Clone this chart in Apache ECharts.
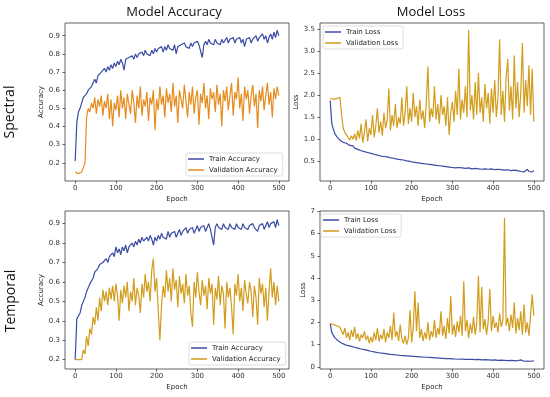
<!DOCTYPE html>
<html><head><meta charset="utf-8">
<script src="https://cdn.jsdelivr.net/npm/echarts@6/dist/echarts.min.js"></script>
<style>html,body{margin:0;padding:0;background:#fff}#c{width:550px;height:397px}</style>
</head><body><div id="c"></div>
<script>
// epochs are sampled every 4 epochs: 0,4,...,500
const epochStep = 4;
const xTicks = [0, 100, 200, 300, 400, 500];
const accTicks = [0.2, 0.3, 0.4, 0.5, 0.6, 0.7, 0.8, 0.9];
const specLossTicks = [0.5, 1.0, 1.5, 2.0, 2.5, 3.0, 3.5];
const tempLossTicks = [0, 1, 2, 3, 4, 5, 6, 7];

const specTrainAcc = [0.21,0.42,0.48,0.50,0.53,0.56,0.57,0.58,0.60,0.59,0.62,0.63,0.66,0.64,0.68,0.67,0.70,0.69,0.72,0.70,0.73,0.71,0.74,0.72,0.75,0.73,0.76,0.74,0.77,0.75,0.71,0.77,0.76,0.78,0.77,0.79,0.77,0.80,0.78,0.80,0.79,0.81,0.79,0.82,0.80,0.81,0.79,0.82,0.80,0.83,0.81,0.83,0.82,0.84,0.81,0.84,0.82,0.85,0.83,0.84,0.82,0.85,0.80,0.84,0.83,0.85,0.84,0.86,0.84,0.85,0.83,0.86,0.84,0.86,0.85,0.87,0.85,0.86,0.78,0.85,0.87,0.85,0.88,0.86,0.87,0.85,0.88,0.86,0.87,0.85,0.88,0.86,0.87,0.89,0.86,0.88,0.87,0.89,0.86,0.88,0.87,0.89,0.86,0.88,0.84,0.88,0.87,0.89,0.86,0.88,0.87,0.90,0.87,0.89,0.88,0.91,0.88,0.90,0.86,0.89,0.91,0.88,0.92,0.89,0.93,0.90];
const specValAcc = [0.15,0.14,0.14,0.14,0.15,0.14,0.20,0.45,0.50,0.48,0.53,0.50,0.56,0.47,0.55,0.51,0.57,0.46,0.54,0.50,0.58,0.44,0.55,0.40,0.53,0.49,0.57,0.45,0.60,0.50,0.56,0.44,0.58,0.52,0.47,0.60,0.53,0.42,0.57,0.50,0.62,0.46,0.55,0.51,0.59,0.43,0.56,0.52,0.60,0.38,0.55,0.49,0.62,0.52,0.57,0.45,0.61,0.53,0.58,0.48,0.64,0.51,0.57,0.42,0.60,0.55,0.50,0.63,0.54,0.45,0.59,0.52,0.62,0.47,0.56,0.60,0.41,0.58,0.53,0.64,0.50,0.57,0.44,0.61,0.55,0.59,0.48,0.63,0.52,0.58,0.40,0.60,0.54,0.62,0.49,0.57,0.64,0.46,0.59,0.55,0.67,0.50,0.58,0.43,0.62,0.55,0.60,0.47,0.57,0.63,0.51,0.58,0.39,0.60,0.54,0.62,0.49,0.57,0.64,0.52,0.59,0.45,0.61,0.55,0.62,0.57];
const specTrainLoss = [1.88,1.35,1.22,1.12,1.06,1.02,0.98,0.95,0.93,0.90,0.91,0.87,0.86,0.84,0.85,0.80,0.79,0.77,0.78,0.74,0.76,0.72,0.73,0.70,0.71,0.68,0.69,0.66,0.68,0.64,0.67,0.62,0.65,0.61,0.63,0.60,0.61,0.58,0.60,0.57,0.58,0.55,0.57,0.54,0.56,0.53,0.54,0.51,0.53,0.50,0.52,0.48,0.50,0.47,0.49,0.46,0.48,0.45,0.47,0.44,0.48,0.43,0.46,0.42,0.44,0.41,0.43,0.40,0.42,0.39,0.41,0.38,0.40,0.37,0.39,0.36,0.40,0.35,0.38,0.36,0.39,0.35,0.37,0.34,0.38,0.35,0.37,0.33,0.36,0.34,0.37,0.33,0.35,0.32,0.36,0.33,0.35,0.32,0.36,0.33,0.35,0.31,0.34,0.32,0.35,0.31,0.33,0.30,0.34,0.31,0.33,0.29,0.32,0.30,0.33,0.29,0.31,0.27,0.30,0.26,0.29,0.32,0.27,0.30,0.26,0.29];
const specValLoss = [1.93,1.92,1.91,1.93,1.92,1.94,1.95,1.55,1.25,1.15,1.10,1.04,0.98,1.08,1.00,1.12,0.97,1.20,1.02,1.35,0.92,1.15,1.45,0.95,1.25,1.10,1.55,1.05,1.30,1.70,1.15,1.40,1.08,1.60,1.25,1.45,2.15,1.20,1.55,1.30,1.80,1.25,1.50,1.35,1.95,1.30,1.60,2.20,1.35,1.70,1.40,2.05,1.50,1.75,1.30,1.90,1.45,1.65,1.25,1.85,2.65,1.40,1.70,1.50,2.20,1.45,1.80,1.35,2.00,1.55,1.75,1.30,1.95,1.10,1.60,1.85,1.40,2.10,1.55,2.60,1.45,1.90,1.60,2.20,1.50,3.47,1.65,2.00,1.45,2.30,1.55,2.50,1.60,1.95,1.40,2.25,1.70,2.05,1.35,2.15,1.60,2.35,1.50,1.95,3.27,1.55,2.10,1.40,2.40,2.82,1.65,2.20,1.45,2.90,1.70,2.30,1.50,2.05,3.18,1.60,2.35,1.75,2.68,1.55,2.60,1.40];
const tempTrainAcc = [0.20,0.41,0.42,0.44,0.48,0.50,0.52,0.55,0.56,0.59,0.60,0.62,0.65,0.64,0.67,0.69,0.68,0.70,0.69,0.72,0.70,0.73,0.72,0.75,0.73,0.78,0.75,0.77,0.74,0.78,0.76,0.79,0.75,0.78,0.77,0.80,0.78,0.81,0.79,0.82,0.80,0.83,0.81,0.80,0.83,0.81,0.84,0.82,0.79,0.83,0.81,0.84,0.82,0.85,0.83,0.84,0.82,0.86,0.83,0.85,0.84,0.86,0.83,0.85,0.87,0.84,0.86,0.85,0.88,0.85,0.87,0.86,0.88,0.85,0.87,0.89,0.86,0.88,0.87,0.89,0.86,0.88,0.90,0.87,0.88,0.79,0.88,0.90,0.88,0.89,0.87,0.90,0.88,0.89,0.87,0.90,0.88,0.89,0.87,0.90,0.88,0.89,0.87,0.90,0.88,0.89,0.87,0.89,0.88,0.90,0.88,0.89,0.86,0.89,0.88,0.90,0.87,0.89,0.91,0.88,0.90,0.89,0.91,0.88,0.92,0.89];
const tempValAcc = [0.20,0.20,0.20,0.19,0.20,0.25,0.23,0.32,0.27,0.36,0.33,0.42,0.38,0.47,0.40,0.52,0.45,0.56,0.50,0.55,0.48,0.57,0.51,0.58,0.50,0.59,0.53,0.40,0.56,0.49,0.58,0.52,0.60,0.45,0.55,0.50,0.62,0.48,0.57,0.53,0.44,0.59,0.52,0.64,0.55,0.60,0.50,0.66,0.72,0.55,0.62,0.45,0.30,0.48,0.58,0.52,0.66,0.55,0.62,0.50,0.67,0.56,0.61,0.47,0.63,0.54,0.59,0.49,0.64,0.53,0.58,0.44,0.37,0.60,0.52,0.65,0.55,0.48,0.61,0.53,0.58,0.46,0.62,0.54,0.59,0.38,0.57,0.51,0.63,0.48,0.58,0.54,0.36,0.60,0.52,0.57,0.47,0.33,0.59,0.53,0.64,0.50,0.57,0.45,0.61,0.54,0.49,0.60,0.55,0.42,0.58,0.52,0.38,0.62,0.54,0.59,0.47,0.57,0.40,0.55,0.67,0.52,0.60,0.48,0.58,0.50];
const tempTrainLoss = [1.95,1.55,1.40,1.30,1.22,1.16,1.11,1.07,1.04,1.00,0.98,0.95,0.93,0.92,0.89,0.88,0.85,0.84,0.82,0.80,0.79,0.77,0.76,0.74,0.72,0.70,0.69,0.67,0.66,0.64,0.65,0.62,0.61,0.60,0.61,0.58,0.57,0.56,0.60,0.55,0.54,0.53,0.55,0.51,0.52,0.50,0.51,0.49,0.50,0.48,0.49,0.47,0.48,0.46,0.47,0.45,0.46,0.44,0.45,0.43,0.44,0.42,0.44,0.41,0.43,0.40,0.42,0.39,0.41,0.38,0.40,0.37,0.39,0.37,0.38,0.36,0.38,0.35,0.37,0.34,0.36,0.35,0.37,0.33,0.35,0.34,0.36,0.33,0.35,0.32,0.34,0.33,0.35,0.31,0.33,0.32,0.34,0.31,0.33,0.30,0.32,0.31,0.33,0.29,0.31,0.30,0.32,0.29,0.31,0.28,0.30,0.29,0.33,0.28,0.30,0.27,0.29,0.31,0.27,0.25,0.28,0.26,0.29,0.25,0.28,0.27];
const tempValLoss = [1.95,1.93,1.90,1.88,1.85,1.82,1.78,1.60,1.45,1.75,1.30,1.55,1.20,1.65,1.35,1.80,1.25,1.50,1.15,1.45,1.30,1.60,1.20,1.40,1.05,1.35,1.10,1.55,1.20,1.75,1.15,1.45,1.25,1.70,1.10,1.55,1.30,1.85,1.20,2.45,1.35,1.60,1.15,1.90,1.25,1.05,1.40,1.00,1.30,2.55,1.10,1.80,3.40,1.60,2.90,1.30,1.70,1.15,1.55,1.25,2.00,1.20,1.60,1.35,2.10,1.30,1.75,1.45,2.50,1.40,1.85,1.25,2.20,1.50,3.20,1.45,1.90,1.35,2.05,1.55,2.30,1.40,3.85,1.60,2.10,1.30,1.95,1.50,2.25,1.45,2.00,4.10,1.55,3.60,1.70,2.15,1.45,2.05,3.50,1.60,2.30,1.75,2.00,1.55,2.40,1.80,2.10,6.72,1.85,2.20,1.60,2.35,1.75,2.90,1.50,2.20,1.65,2.50,1.45,2.80,1.55,2.00,1.40,2.30,3.25,2.30];

const BLUE = '#3a4ba3';
const ORANGE = '#e58c1e';
const GOLD = '#d29c1c';
const AX = '#3a3a3a';
const TICKFONT = 'DejaVu Sans';

function pairs(arr) { return arr.map((v, i) => [i * epochStep, v]); }

const grids = [
  {left: 65, top: 23, width: 224, height: 158},
  {left: 320, top: 23, width: 224, height: 158},
  {left: 65, top: 211, width: 224, height: 158},
  {left: 320, top: 211, width: 224, height: 158}
];

function xAxisFor(i) {
  return {
    type: 'value', gridIndex: i, min: -25, max: 525,
    name: 'Epoch', nameLocation: 'middle', nameGap: 15,
    nameTextStyle: {fontSize: 7, fontFamily: TICKFONT, color: '#222'},
    axisLine: {show: false, onZero: false},
    axisTick: {show: true, inside: false, length: 2.5, customValues: xTicks, lineStyle: {color: AX, width: 0.8}},
    axisLabel: {customValues: xTicks, fontSize: 7, fontFamily: TICKFONT, color: '#333', margin: 4},
    splitLine: {show: false}
  };
}
function yAxisFor(i, min, max, ticks, fmt, name, gap) {
  return {
    type: 'value', gridIndex: i, min: min, max: max,
    name: name, nameLocation: 'middle', nameGap: gap,
    nameTextStyle: {fontSize: 7, fontFamily: TICKFONT, color: '#222'},
    axisLine: {show: false, onZero: false},
    axisTick: {show: true, inside: false, length: 2.5, customValues: ticks, lineStyle: {color: AX, width: 0.8}},
    axisLabel: {customValues: ticks, fontSize: 7, fontFamily: TICKFONT, color: '#333', margin: 5, formatter: fmt},
    splitLine: {show: false}
  };
}
function lineSeries(name, data, color, gi) {
  return {
    type: 'line', name: name, xAxisIndex: gi, yAxisIndex: gi,
    data: pairs(data), showSymbol: false, symbol: 'none',
    lineStyle: {color: color, width: 1.2}, itemStyle: {color: color},
    animation: false, silent: true
  };
}
function legendFor(left, top, items) {
  return {
    left: left, top: top, orient: 'vertical', selectedMode: false,
    icon: 'rect', itemWidth: 16, itemHeight: 1.5, itemGap: 3,
    padding: [2, 5, 2, 2],
    backgroundColor: 'rgba(255,255,255,0.85)', borderColor: '#d4d4d4', borderWidth: 0.8, borderRadius: 2,
    textStyle: {fontSize: 7, lineHeight: 8, fontFamily: TICKFONT, color: '#222'},
    data: items.map(it => ({name: it[0], itemStyle: {color: it[1]}})),
    z: 10
  };
}

const chart = echarts.init(document.getElementById('c'), null, {renderer: 'canvas'});
chart.setOption({
  backgroundColor: '#fff',
  animation: false,
  grid: grids.map(g => Object.assign({show: true, borderColor: AX, borderWidth: 0.8, backgroundColor: 'transparent', containLabel: false}, g)),
  xAxis: [0, 1, 2, 3].map(xAxisFor),
  yAxis: [
    yAxisFor(0, 0.10, 0.97, accTicks, v => v.toFixed(1), 'Accuracy', 10),
    yAxisFor(1, 0.054, 3.636, specLossTicks, v => v.toFixed(1), 'Loss', 10),
    yAxisFor(2, 0.152, 0.965, accTicks, v => v.toFixed(1), 'Accuracy', 10),
    yAxisFor(3, -0.10, 7.02, tempLossTicks, v => String(v), 'Loss', 3)
  ],
  legend: [
    legendFor(186, 153, [['Train Accuracy', BLUE], ['Validation Accuracy', ORANGE]]),
    legendFor(323, 26, [['Train Loss', BLUE], ['Validation Loss', GOLD]]),
    legendFor(189, 342, [['Train Accuracy', BLUE], ['Validation Accuracy', GOLD]]),
    legendFor(321, 214, [['Train Loss', BLUE], ['Validation Loss', GOLD]])
  ],
  series: [
    lineSeries('Train Accuracy', specTrainAcc, BLUE, 0),
    lineSeries('Validation Accuracy', specValAcc, ORANGE, 0),
    lineSeries('Train Loss', specTrainLoss, BLUE, 1),
    lineSeries('Validation Loss', specValLoss, GOLD, 1),
    lineSeries('Train Accuracy', tempTrainAcc, BLUE, 2),
    lineSeries('Validation Accuracy', tempValAcc, GOLD, 2),
    lineSeries('Train Loss', tempTrainLoss, BLUE, 3),
    lineSeries('Validation Loss', tempValLoss, GOLD, 3)
  ],
  graphic: [
    {type: 'text', x: 174, y: 12, style: {text: 'Model Accuracy', font: '13px "Open Sans"', fill: '#111', align: 'center', verticalAlign: 'middle', textAlign: 'center', textVerticalAlign: 'middle'}},
    {type: 'text', x: 431, y: 12, style: {text: 'Model Loss', font: '13px "Open Sans"', fill: '#111', align: 'center', verticalAlign: 'middle', textAlign: 'center', textVerticalAlign: 'middle'}},
    {type: 'text', x: 10, y: 112, rotation: Math.PI / 2, style: {text: 'Spectral', font: '14px "Open Sans"', fill: '#111', align: 'center', verticalAlign: 'middle', textAlign: 'center', textVerticalAlign: 'middle'}},
    {type: 'text', x: 11, y: 301, rotation: Math.PI / 2, style: {text: 'Temporal', font: '14px "Open Sans"', fill: '#111', align: 'center', verticalAlign: 'middle', textAlign: 'center', textVerticalAlign: 'middle'}}
  ]
});
</script>
</body></html>
